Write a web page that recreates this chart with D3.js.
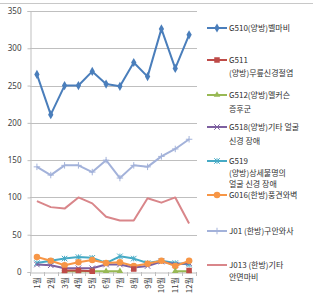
<!DOCTYPE html>
<html><head><meta charset="utf-8">
<script src="https://cdn.jsdelivr.net/npm/d3@7"></script>
<style>
body{margin:0;background:#fff;}
svg{display:block;font-family:"Noto Sans CJK KR","Noto Sans",sans-serif;}
</style></head>
<body><svg id="c" width="317" height="299"></svg>
<script>
const months = ["1월","2월","3월","4월","5월","6월","7월","8월","9월","10월","11월","12월"];
const yTicks = [0,50,100,150,200,250,300,350];
const G510 = [265,211,250,250,269,252,249,281,262,326,273,318];
const G511 = [null,null,2,2,1,null,null,4,null,null,null,2];
const G512 = [null,null,1,1,1,1,1,null,null,null,1,1];
const G518 = [10,9,5,5,5,10,10,6,8,14,10,12];
const G519 = [12,15,18,20,19,12,21,18,12,15,12,10];
const G016 = [20,15,9,13,16,12,13,8,11,15,8,15];
const J01 = [141,130,143,143,134,150,126,143,141,155,165,178];
const J013 = [95,87,85,100,92,74,69,69,99,93,100,65];

const seriesNames = [
  ["G510(양방)벨마비"],
  ["G511","(양방)무릎신경절염"],
  ["G512(양방)멜커슨","증후군"],
  ["G518(양방)기타 얼굴","신경 장애"],
  ["G519","(양방)상세불명의","얼굴 신경 장애"],
  ["G016(한방)풍견와벽"],
  ["J01 (한방)구안와사"],
  ["J013 (한방)기타","안면마비"]
];
const seriesValues = [G510,G511,G512,G518,G519,G016,J01,J013];
const colors = ["#4A7EBB","#BE4B48","#98B954","#7D60A0","#46AAC5","#F79646","#A3B2DA","#D9868A"];
const markers = ["diamond","square","triangle","x","star","circle","plus","none"];
const legendY = [28,60,95,127,161,195,231,265];
const lineGap = [12,12.5,13.5,13.5,11.5,12,12,12];

const svg = d3.select("#c");
const x = d3.scaleBand().domain(months).range([30,196]);
const y = d3.scaleLinear().domain([0,350]).range([272,11]);
const cx = m => x(m) + x.bandwidth()/2;

// frame top line
svg.append("line").attr("x1",0).attr("x2",313).attr("y1",3.5).attr("y2",3.5).attr("stroke","#c8c8c8");

// grid
svg.append("g").selectAll("line").data(yTicks.filter(t=>t>0)).join("line")
  .attr("x1",30).attr("x2",197).attr("y1",d=>Math.round(y(d))+0.5).attr("y2",d=>Math.round(y(d))+0.5)
  .attr("stroke","#bfbfbf").attr("stroke-width",1);

// y axis
const ya = svg.append("g").attr("transform","translate(30.5,0)")
  .call(d3.axisLeft(y).tickValues(yTicks).tickSize(3).tickPadding(6));
ya.select(".domain").attr("stroke","#bfbfbf");
ya.selectAll(".tick line").attr("stroke","#bfbfbf");
ya.selectAll("text").attr("font-size",8).attr("fill","#404040").attr("font-family","Noto Sans, sans-serif");

// x axis
const xa = svg.append("g").attr("transform","translate(0,272.5)")
  .call(d3.axisBottom(x).tickSize(0).tickFormat(""));
xa.select(".domain").attr("stroke","#bfbfbf");
svg.append("g").selectAll("line").data(months).join("line")
  .attr("x1",d=>Math.round(x(d))+0.5).attr("x2",d=>Math.round(x(d))+0.5)
  .attr("y1",272).attr("y2",276).attr("stroke","#bfbfbf");
svg.append("line").attr("x1",196.5).attr("x2",196.5).attr("y1",272).attr("y2",276).attr("stroke","#bfbfbf");
svg.append("g").selectAll("text").data(months).join("text")
  .attr("transform",d=>`translate(${cx(d)+3},277) rotate(-90)`)
  .attr("text-anchor","end").attr("font-size",8).attr("fill","#404040").text(d=>d);

function drawMarker(g, type, color, px, py, s){
  if(type==="diamond"){
    g.append("path").attr("d",d3.symbol(d3.symbolDiamond,s*s*0.8)()).attr("transform",`translate(${px},${py})`).attr("fill",color);
  } else if(type==="square"){
    g.append("rect").attr("x",px-s/2).attr("y",py-s/2).attr("width",s).attr("height",s).attr("fill",color);
  } else if(type==="triangle"){
    g.append("path").attr("d",d3.symbol(d3.symbolTriangle,s*s*0.6)()).attr("transform",`translate(${px},${py})`).attr("fill",color);
  } else if(type==="x"){
    const r=s/2;
    g.append("path").attr("d",`M${px-r},${py-r}L${px+r},${py+r}M${px-r},${py+r}L${px+r},${py-r}`).attr("stroke",color).attr("stroke-width",1);
  } else if(type==="star"){
    const r=s/2;
    g.append("path").attr("d",`M${px-r},${py-r}L${px+r},${py+r}M${px-r},${py+r}L${px+r},${py-r}M${px},${py-r}L${px},${py+r}`).attr("stroke",color).attr("stroke-width",1);
  } else if(type==="circle"){
    g.append("circle").attr("cx",px).attr("cy",py).attr("r",s/2+0.5).attr("fill",color);
  } else if(type==="plus"){
    const r=s/2+0.5;
    g.append("path").attr("d",`M${px-r},${py}L${px+r},${py}M${px},${py-r}L${px},${py+r}`).attr("stroke",color).attr("stroke-width",1);
  }
}

// series (draw in reverse so first series is on top)
const order = [7,6,4,3,5,0,2,1];
order.forEach(i=>{
  const vals = seriesValues[i];
  const g = svg.append("g");
  const line = d3.line().defined(d=>d!=null).x((d,j)=>cx(months[j])).y(d=>y(d));
  g.append("path").datum(vals).attr("d",line).attr("fill","none")
    .attr("stroke",colors[i]).attr("stroke-width",2).attr("stroke-linejoin","round");
  vals.forEach((v,j)=>{ if(v!=null) drawMarker(g, markers[i], colors[i], cx(months[j]), y(v), 5.5); });
});

// legend
const lg = svg.append("g");
seriesNames.forEach((lines,i)=>{
  const ly = legendY[i];
  lg.append("line").attr("x1",207).attr("x2",227).attr("y1",ly).attr("y2",ly).attr("stroke",colors[i]).attr("stroke-width",2);
  drawMarker(lg, markers[i], colors[i], 217, ly, 5.5);
  lines.forEach((t,k)=>{
    lg.append("text").attr("x",229).attr("y",ly+3+k*lineGap[i]).attr("font-size",8).attr("fill","#303030").text(t);
  });
});
</script></body></html>
